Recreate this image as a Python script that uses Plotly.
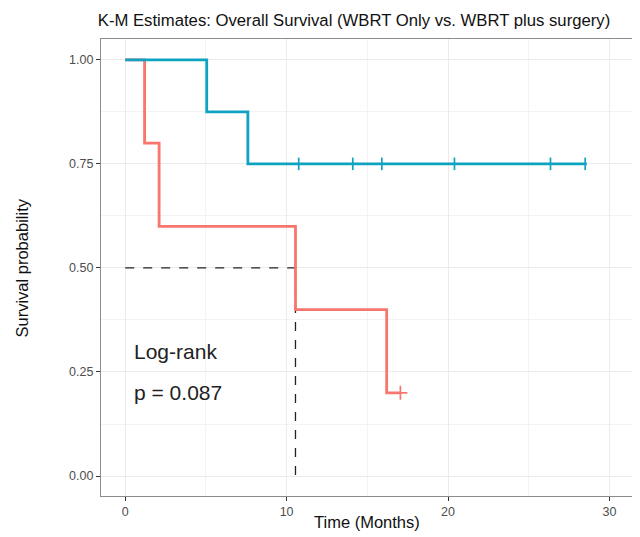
import plotly.graph_objects as go

# Data
red_times = [0, 1.2, 2.1, 10.55, 16.2, 17.05]
red_surv = [1.0, 0.8, 0.6, 0.4, 0.2, 0.2]
red_cens_t = [17.05]
red_cens_s = [0.2]

blue_times = [0, 5.05, 7.6, 28.6]
blue_surv = [1.0, 0.875, 0.75, 0.75]
blue_cens_t = [10.75, 14.1, 15.9, 20.4, 26.35, 28.5]
blue_cens_s = [0.75, 0.75, 0.75, 0.75, 0.75, 0.75]

median_time = 10.55
median_surv = 0.5

x_ticks = [0, 10, 20, 30]
y_ticks = [0.0, 0.25, 0.5, 0.75, 1.0]

RED = "#F8766D"
BLUE = "#0FA3C2"
FONT = "Liberation Sans"

# page body has an 8px margin, so the figure is 16px smaller than the window
W, H = 632, 529
ML, MR, MT, MB = 93, 8, 31, 41
PW, PH = W - ML - MR, H - MT - MB

fig = go.Figure()

fig.add_trace(go.Scatter(x=[0, median_time], y=[median_surv, median_surv], mode="lines",
                         line=dict(color="#222222", width=1.3, dash="dash"), showlegend=False,
                         hoverinfo="skip"))
fig.add_trace(go.Scatter(x=[median_time, median_time], y=[median_surv, 0], mode="lines",
                         line=dict(color="#222222", width=1.3, dash="dash"), showlegend=False,
                         hoverinfo="skip"))

fig.add_trace(go.Scatter(x=red_times, y=red_surv, mode="lines", line=dict(color=RED, width=2.8, shape="hv"),
                         name="WBRT Only", showlegend=False))
fig.add_trace(go.Scatter(x=blue_times, y=blue_surv, mode="lines", line=dict(color=BLUE, width=2.8, shape="hv"),
                         name="WBRT plus surgery", showlegend=False))
fig.add_trace(go.Scatter(x=red_cens_t, y=red_cens_s, mode="markers",
                         marker=dict(symbol="cross-thin", size=10, line=dict(color=RED, width=1.7)),
                         showlegend=False))
fig.add_trace(go.Scatter(x=blue_cens_t, y=blue_cens_s, mode="markers",
                         marker=dict(symbol="line-ns", size=9, line=dict(color=BLUE, width=1.7)),
                         showlegend=False))

fig.add_annotation(x=0.45, y=0.3, xref="x", yref="y", text="Log-rank", showarrow=False,
                   xanchor="left", yanchor="middle", font=dict(family=FONT, size=21, color="#222222"))
fig.add_annotation(x=0.45, y=0.2, xref="x", yref="y", text="p = 0.087", showarrow=False,
                   xanchor="left", yanchor="middle", font=dict(family=FONT, size=21, color="#222222"))

# axis titles as annotations for exact placement
fig.add_annotation(x=(359 - ML) / PW, y=(MT + PH - 514) / PH, xref="paper", yref="paper",
                   text="Time (Months)", showarrow=False, xanchor="center", yanchor="middle",
                   font=dict(family=FONT, size=16.5, color="#111111"))
fig.add_annotation(x=(13.5 - ML) / PW, y=(MT + PH - 260) / PH, xref="paper", yref="paper",
                   text="Survival probability", showarrow=False, xanchor="center", yanchor="middle",
                   textangle=-90, font=dict(family=FONT, size=16.5, color="#111111"))

axis_common = dict(
    showline=True, mirror=True, linecolor="#8C8C8C", linewidth=1.2,
    showgrid=True, gridcolor="#EBEBEB", gridwidth=1.2,
    ticks="outside", ticklen=4, tickcolor="#333333", tickwidth=1,
    tickfont=dict(family=FONT, size=12.5, color="#4D4D4D"),
    zeroline=False,
)

fig.update_layout(
    width=W, height=H,
    margin=dict(l=ML, r=MR, t=MT, b=MB),
    paper_bgcolor="white", plot_bgcolor="white",
    title=dict(text="K-M Estimates: Overall Survival (WBRT Only vs. WBRT plus surgery)",
               x=346 / W, xanchor="center", y=1 - 12 / H, yanchor="middle", yref="container",
               font=dict(family=FONT, size=16.7, color="#111111")),
    xaxis=dict(range=[-1.5, 31.4], tickvals=x_ticks,
               minor=dict(showgrid=True, gridcolor="#F3F3F3", dtick=5, tick0=0), **axis_common),
    yaxis=dict(range=[-0.048, 1.05], tickvals=y_ticks, tickformat=".2f",
               minor=dict(showgrid=True, gridcolor="#F3F3F3", dtick=0.125, tick0=0), **axis_common),
)

fig.write_html("out.html")
